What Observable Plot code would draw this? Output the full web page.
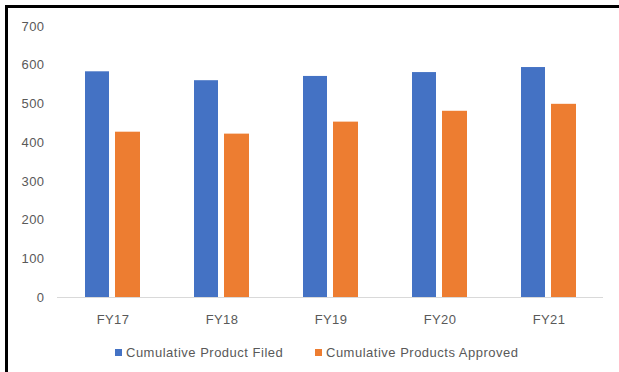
<!DOCTYPE html>
<html>
<head>
<meta charset="utf-8">
<script src="https://cdn.jsdelivr.net/npm/d3@7"></script>
<script src="https://cdn.jsdelivr.net/npm/@observablehq/plot@0.6"></script>
<style>
  html, body { margin: 0; padding: 0; background: #fff; overflow: hidden; }
  body { width: 619px; height: 372px; position: relative; font-family: "Liberation Sans", Arial, sans-serif; }
  #frame {
    position: absolute; left: 5px; top: 5px; width: 640px; height: 400px;
    border-top: 3px solid #000; border-left: 3px solid #000;
  }
  #chart { position: absolute; left: 0; top: 0; }
  #chart svg text { letter-spacing: 0.4px; }
  #legend {
    position: absolute; left: 0; top: 345px; width: 619px;
    font-size: 13px; letter-spacing: 0.5px; color: #595959; white-space: nowrap;
  }
  #legend .item { position: absolute; top: 0; line-height: 15px; }
  #legend .sw { display: inline-block; width: 7px; height: 7px; margin-right: 4px; vertical-align: 1px; }
</style>
</head>
<body>
<div id="frame"></div>
<div id="chart"></div>
<div id="legend"></div>
<script>
// Fiscal years and the two cumulative series
const years = ["FY17", "FY18", "FY19", "FY20", "FY21"];
const filed = [583, 560, 571, 581, 594];
const approved = [427, 422, 453, 481, 499];
const yTicks = [0, 100, 200, 300, 400, 500, 600, 700];
const seriesNames = ["Cumulative Product Filed", "Cumulative Products Approved"];
const seriesColors = ["#4472C4", "#ED7D31"];

const rows = years.flatMap((year, i) => [
  {year, series: seriesNames[0], value: filed[i]},
  {year, series: seriesNames[1], value: approved[i]}
]);

const chart = Plot.plot({
  width: 619,
  height: 335,
  marginLeft: 57,
  marginRight: 16,
  marginTop: 26,
  marginBottom: 38,
  style: {fontFamily: "Liberation Sans, Arial, sans-serif", fontSize: "13px", color: "#595959", background: "transparent"},
  x: {domain: years, padding: 0, label: null, tickSize: 0, tickPadding: 17},
  y: {domain: [0, 700], ticks: yTicks, label: null, tickSize: 0, tickPadding: 13},
  color: {domain: seriesNames, range: seriesColors},
  marks: [
    Plot.ruleY([0], {stroke: "#d9d9d9", strokeWidth: 1}),
    // each year's band holds the filed bar on the left and the approved bar on the right
    Plot.barY(rows.filter(d => d.series === seriesNames[0]), {
      x: "year", y: "value", fill: "series", insetLeft: 27, insetRight: 58
    }),
    Plot.barY(rows.filter(d => d.series === seriesNames[1]), {
      x: "year", y: "value", fill: "series", insetLeft: 57, insetRight: 27
    })
  ]
});
document.getElementById("chart").appendChild(chart);

// Legend row below the plot
const legend = document.getElementById("legend");
const legendLeft = [115, 315];
seriesNames.forEach((name, i) => {
  const item = document.createElement("span");
  item.className = "item";
  item.style.left = legendLeft[i] + "px";
  const sw = document.createElement("span");
  sw.className = "sw";
  sw.style.background = seriesColors[i];
  item.appendChild(sw);
  item.appendChild(document.createTextNode(name));
  legend.appendChild(item);
});
</script>
</body>
</html>
